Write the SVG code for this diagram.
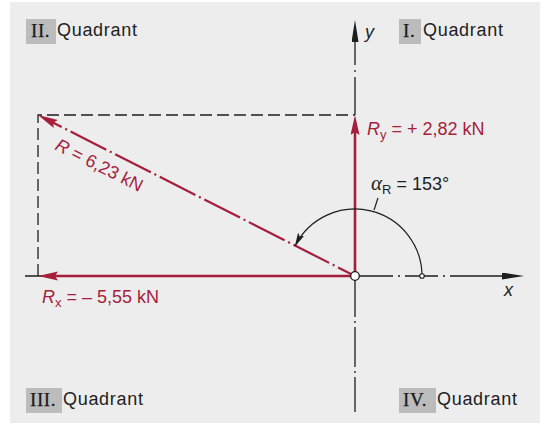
<svg xmlns="http://www.w3.org/2000/svg" width="541" height="424" viewBox="0 0 541 424">
<style>
.q{font-family:"Liberation Sans",Arial,sans-serif;font-size:18px;fill:#1e1e1e;letter-spacing:0.7px}
.rn{font-family:"Liberation Serif","Times New Roman",serif;font-size:19px;fill:#1a1a1a;letter-spacing:0.6px;stroke:#1a1a1a;stroke-width:0.25px}
.box{fill:#bcbcbd}
.lbl{font-family:"Liberation Sans",Arial,sans-serif;font-size:18px;fill:#a51e3c}
.blk{font-family:"Liberation Sans",Arial,sans-serif;font-size:18px;fill:#1e1e1e}
.it{font-style:italic}
.ax{stroke:#1e1e1e;stroke-width:1.3;fill:none}
.red{stroke:#a51e3c;stroke-width:2.6;fill:none}
.dash{stroke:#1e1e1e;stroke-width:1.3;fill:none;stroke-dasharray:12 5}
</style>
<defs>
<marker id="ra" markerUnits="userSpaceOnUse" markerWidth="22" markerHeight="10" refX="10" refY="4.5" orient="auto">
<path d="M0,0 L20,4.5 L0,9 L3,4.5 z" fill="#a51e3c"/>
</marker>
<marker id="ba" markerUnits="userSpaceOnUse" markerWidth="24" markerHeight="8" refX="0" refY="3.5" orient="auto">
<path d="M0,0 L22,3.5 L0,7 z" fill="#1e1e1e"/>
</marker>
<marker id="sa" markerUnits="userSpaceOnUse" markerWidth="16" markerHeight="8" refX="13" refY="3.5" orient="auto">
<path d="M0,0 L14,3.5 L0,7 L3,3.5 z" fill="#1e1e1e"/>
</marker>
</defs>
<rect x="10" y="2" width="530" height="421" fill="#ededed"/>

<g id="quadrant-2">
<rect class="box" x="26" y="19" width="30" height="25"/>
<text class="rn" x="31" y="37">II.</text>
<text class="q" x="57" y="36">Quadrant</text>
</g>
<g id="quadrant-1">
<rect class="box" x="399" y="19" width="22" height="25"/>
<text class="rn" x="403" y="37">I.</text>
<text class="q" x="423" y="36">Quadrant</text>
</g>
<g id="quadrant-3">
<rect class="box" x="26" y="388" width="36" height="25"/>
<text class="rn" x="30" y="406">III.</text>
<text class="q" x="63" y="405">Quadrant</text>
</g>
<g id="quadrant-4">
<rect class="box" x="399" y="388" width="37" height="25"/>
<text class="rn" x="403" y="406">IV.</text>
<text class="q" x="437" y="405">Quadrant</text>
</g>

<g id="connectors">
<path class="dash" d="M38,276 V115 H355"/>
<line class="ax" x1="25" y1="276" x2="355" y2="276"/>
<path class="ax" d="M355,276 H502" style="stroke-dasharray:38 5 2 5 33 5 2 5 100" marker-end="url(#ba)"/>
<path class="ax" d="M355,115 V42" style="stroke-dasharray:38 5 2 5 100" marker-end="url(#ba)"/>
<path class="ax" d="M355,276 V412" style="stroke-dasharray:41 4 2 4 40 4 2 4 100"/>
<path class="red" style="stroke-width:2.2;stroke-dasharray:40 4 2 4;stroke-dashoffset:21" d="M355,276 L46.9,119.5" marker-end="url(#ra)"/>
<path class="red" d="M355,276 H48" marker-end="url(#ra)"/>
<path class="red" d="M355,276 V125" marker-end="url(#ra)"/>
<path d="M422,276 A67,67 0 0 0 295.3,245.6" fill="none" stroke="#1e1e1e" stroke-width="1.2" marker-end="url(#sa)"/>
<line x1="374" y1="210" x2="378" y2="198" stroke="#1e1e1e" stroke-width="1.2"/>
<circle cx="422" cy="276" r="2.3" fill="#fff" stroke="#1e1e1e" stroke-width="1.1"/>
<circle cx="355" cy="276" r="4.3" fill="#fff" stroke="#1e1e1e" stroke-width="1.3"/>
</g>

<g id="label-y"><text class="blk it" x="365" y="38">y</text></g>
<g id="label-x"><text class="blk it" x="504" y="296">x</text></g>

<g id="label-R">
<text class="lbl" transform="translate(54,149) rotate(26.9)"><tspan class="it">R</tspan> = 6,23 kN</text>
</g>
<g id="label-Ry">
<text class="lbl" x="367" y="135"><tspan class="it">R</tspan><tspan font-size="13" dy="4">y</tspan><tspan dy="-4"> = + 2,82 kN</tspan></text>
</g>
<g id="label-Rx">
<text class="lbl" x="42" y="303"><tspan class="it">R</tspan><tspan font-size="13" dy="4">x</tspan><tspan dy="-4"> = – 5,55 kN</tspan></text>
</g>
<g id="label-alpha">
<text class="blk" x="371" y="190"><tspan font-family="Liberation Serif,serif" font-style="italic" font-size="21">α</tspan><tspan font-size="13" dy="4">R</tspan><tspan dy="-4"> = 153°</tspan></text>
</g>
</svg>
